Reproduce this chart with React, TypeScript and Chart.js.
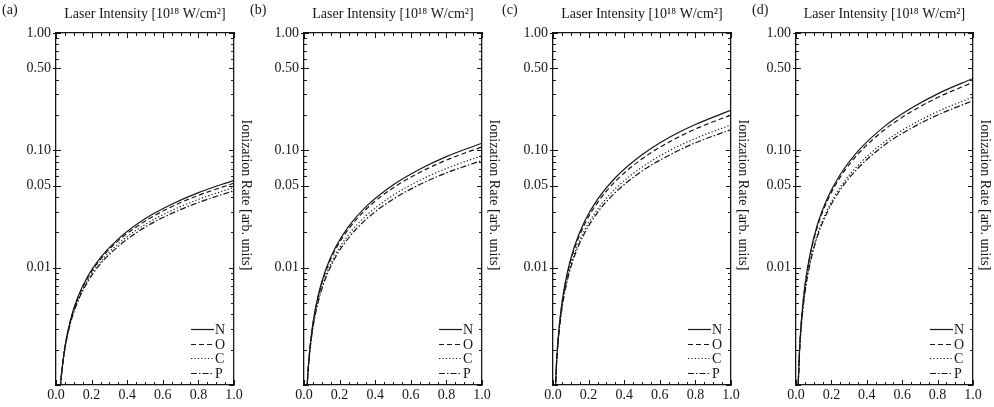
import { useEffect, useRef } from "react";
import { Chart, registerables } from "chart.js";

Chart.register(...registerables);

const FONT = "'Liberation Serif', 'Times New Roman', serif";
const INK = "#161616";

// ---------- data ----------
const X_VALUES = [0.01, 0.02, 0.03, 0.05, 0.08, 0.12, 0.18, 0.25, 0.35, 0.5, 0.65, 0.8, 1.0];

const A_N = [0.000362, 0.000773, 0.0012, 0.0021, 0.00351, 0.00548, 0.00853, 0.0122, 0.0176, 0.0261, 0.0347, 0.0436, 0.0556];
const A_O = [0.000368, 0.000778, 0.0012, 0.00208, 0.00346, 0.00536, 0.00828, 0.0118, 0.017, 0.0249, 0.0331, 0.0413, 0.0525];
const A_C = [0.000376, 0.000781, 0.00119, 0.00205, 0.00337, 0.00517, 0.00793, 0.0112, 0.016, 0.0233, 0.0307, 0.0382, 0.0484];
const A_P = [0.000382, 0.000784, 0.00119, 0.00203, 0.00331, 0.00504, 0.00766, 0.0108, 0.0152, 0.0221, 0.029, 0.0359, 0.0453];

const B_N = [0.0005, 0.00113, 0.00183, 0.00334, 0.00582, 0.0094, 0.0152, 0.0224, 0.0333, 0.0507, 0.0691, 0.0884, 0.115];
const B_O = [0.000505, 0.00113, 0.00181, 0.00328, 0.00567, 0.00909, 0.0146, 0.0213, 0.0316, 0.0478, 0.0648, 0.0826, 0.107];
const B_C = [0.000518, 0.00113, 0.00177, 0.00314, 0.00532, 0.00838, 0.0132, 0.0191, 0.0278, 0.0414, 0.0555, 0.0701, 0.09];
const B_P = [0.000524, 0.00112, 0.00175, 0.00306, 0.00513, 0.00801, 0.0125, 0.0179, 0.0259, 0.0383, 0.0511, 0.0642, 0.082];

const C_N = [0.000652, 0.00157, 0.00261, 0.00499, 0.00903, 0.0151, 0.0252, 0.0382, 0.0584, 0.0916, 0.128, 0.166, 0.22];
const C_O = [0.000659, 0.00156, 0.00258, 0.00486, 0.0087, 0.0144, 0.0238, 0.0358, 0.0543, 0.0846, 0.117, 0.152, 0.2];
const C_C = [0.000669, 0.00153, 0.00249, 0.00459, 0.00804, 0.0131, 0.0212, 0.0314, 0.047, 0.072, 0.0985, 0.126, 0.165];
const C_P = [0.000673, 0.00152, 0.00244, 0.00445, 0.00773, 0.0125, 0.02, 0.0295, 0.0437, 0.0665, 0.0904, 0.116, 0.15];

const D_N = [0.000781, 0.00201, 0.00348, 0.00697, 0.0132, 0.023, 0.0398, 0.0623, 0.0983, 0.16, 0.228, 0.303, 0.41];
const D_O = [0.000783, 0.00199, 0.00342, 0.0068, 0.0128, 0.0221, 0.038, 0.0591, 0.0928, 0.15, 0.213, 0.282, 0.38];
const D_C = [0.000793, 0.00192, 0.00322, 0.00619, 0.0113, 0.019, 0.0318, 0.0485, 0.0745, 0.118, 0.164, 0.214, 0.285];
const D_P = [0.000793, 0.0019, 0.00317, 0.00604, 0.0109, 0.0183, 0.0304, 0.0461, 0.0704, 0.111, 0.154, 0.2, 0.265];

const SERIES_NAMES = ["N", "O", "C", "P"];
const PANEL_LABELS = ["(a)", "(b)", "(c)", "(d)"];
const PANEL_SERIES = [
  [A_N, A_O, A_C, A_P],
  [B_N, B_O, B_C, B_P],
  [C_N, C_O, C_C, C_P],
  [D_N, D_O, D_C, D_P],
];

const X_TICKS = [0, 0.2, 0.4, 0.6, 0.8, 1.0];
const X_TICK_LABELS = ["0.0", "0.2", "0.4", "0.6", "0.8", "1.0"];
const Y_TICKS = [0.01, 0.05, 0.1, 0.5, 1];
const Y_TICK_LABELS = ["0.01", "0.05", "0.10", "0.50", "1.00"];
const Y_DECADES = [0.001, 0.01, 0.1];
const Y_MULTIPLIERS = [1, 2, 3, 4, 5, 6, 7, 8, 9];
const X_MINOR_STEPS = 20;

const X_TITLE = "Laser Intensity [10\u00b9\u2078 W/cm\u00b2]";
const Y_TITLE = "Ionization Rate [arb. units]        ";

// ---------- styling / layout ----------
const FS = 14;
const DASHES: number[][] = [[], [5, 3], [1.2, 2.2], [6, 2, 1.5, 2]];
const LAYOUT = [
  { canvasLeft: 0, chartLeft: 56, chartRight: 234, letterLeft: 2 },
  { canvasLeft: 254, chartLeft: 304, chartRight: 482, letterLeft: 250 },
  { canvasLeft: 502, chartLeft: 553, chartRight: 731, letterLeft: 502 },
  { canvasLeft: 751, chartLeft: 796, chartRight: 973, letterLeft: 752 },
];
const H = 407;
const TOP = 33;
const BOTTOM = 385;
const RIGHT_AXIS = 20;

const frameTicks = {
  id: "frameTicks",
  afterDraw(chart: any) {
    const { ctx, chartArea, scales } = chart;
    const { left, right, top, bottom } = chartArea;
    const xs = scales.x;
    const ys = scales.y;
    ctx.save();
    ctx.strokeStyle = INK;
    ctx.lineWidth = 1;
    ctx.setLineDash([]);
    ctx.beginPath();
    for (let i = 0; i <= X_MINOR_STEPS; i++) {
      const v = i / X_MINOR_STEPS;
      const px = Math.round(xs.getPixelForValue(v)) + 0.5;
      const len = i % 4 === 0 ? 5 : 3;
      ctx.moveTo(px, bottom);
      ctx.lineTo(px, bottom - len);
      ctx.moveTo(px, top);
      ctx.lineTo(px, top + len);
    }
    const yVals: number[] = [];
    Y_DECADES.forEach((d) => Y_MULTIPLIERS.forEach((m) => yVals.push(d * m)));
    yVals.push(1);
    yVals.forEach((v) => {
      const py = Math.round(ys.getPixelForValue(v)) + 0.5;
      const labeled = Y_TICKS.some((t) => Math.abs(t - v) < 1e-9);
      const decade = Math.abs(Math.log10(v) - Math.round(Math.log10(v))) < 1e-6;
      const len = labeled || decade ? 5 : 3;
      ctx.moveTo(left, py);
      ctx.lineTo(left + len, py);
      ctx.moveTo(right, py);
      ctx.lineTo(right - len, py);
      if (labeled) {
        ctx.moveTo(left, py);
        ctx.lineTo(left - 3, py);
      }
    });
    ctx.stroke();
    ctx.restore();
  },
};

const innerLegend = {
  id: "innerLegend",
  afterDraw(chart: any) {
    const { ctx, chartArea } = chart;
    const { right, bottom } = chartArea;
    ctx.save();
    ctx.font = `${FS}px ${FONT}`;
    ctx.fillStyle = INK;
    ctx.strokeStyle = INK;
    ctx.lineWidth = 1.2;
    ctx.textBaseline = "middle";
    ctx.textAlign = "left";
    chart.data.datasets.forEach((ds: any, i: number) => {
      const y = Math.round(bottom - 56 + i * 14.5) + 0.5;
      ctx.setLineDash(ds.borderDash || []);
      ctx.beginPath();
      ctx.moveTo(right - 43, y);
      ctx.lineTo(right - 20, y);
      ctx.stroke();
      ctx.setLineDash([]);
      ctx.fillText(ds.label, right - 19, y + 0.5);
    });
    ctx.restore();
  },
};

function Panel({ index }: { index: number }) {
  const ref = useRef<HTMLCanvasElement | null>(null);
  const lay = LAYOUT[index];
  const width = lay.chartRight + RIGHT_AXIS - lay.canvasLeft;

  useEffect(() => {
    if (!ref.current) return;
    const border = { display: true, color: INK, width: 1.3 };
    const grid = { display: false, drawTicks: false };
    const chart = new Chart(ref.current, {
      type: "line",
      data: {
        datasets: PANEL_SERIES[index].map((vals, i) => ({
          label: SERIES_NAMES[i],
          data: X_VALUES.map((x, j) => ({ x, y: vals[j] })),
          borderColor: INK,
          borderWidth: 1.2,
          borderDash: DASHES[i],
          pointRadius: 0,
          fill: false,
          cubicInterpolationMode: "monotone" as const,
        })),
      },
      options: {
        responsive: false,
        maintainAspectRatio: false,
        animation: false,
        events: [],
        layout: { padding: 0 },
        plugins: { legend: { display: false }, tooltip: { enabled: false }, title: { display: false } },
        scales: {
          x: {
            type: "linear",
            position: "bottom",
            min: 0,
            max: 1,
            afterBuildTicks: (s: any) => {
              s.ticks = X_TICKS.map((v) => ({ value: v }));
            },
            afterFit: (s: any) => {
              s.height = H - BOTTOM;
            },
            ticks: {
              callback: (_v: any, i: number) => X_TICK_LABELS[i],
              padding: 2,
              maxRotation: 0,
              autoSkip: false,
              color: INK,
              font: { family: FONT, size: FS },
            },
            grid,
            border,
          },
          x2: {
            type: "linear",
            position: "top",
            min: 0,
            max: 1,
            ticks: { display: false },
            afterFit: (s: any) => {
              s.height = TOP;
            },
            grid,
            border,
            title: {
              display: true,
              text: X_TITLE,
              color: INK,
              font: { family: FONT, size: FS },
              padding: { top: 6, bottom: 0 },
            },
          },
          y: {
            type: "logarithmic",
            position: "left",
            min: 0.001,
            max: 1,
            afterBuildTicks: (s: any) => {
              s.ticks = Y_TICKS.map((v) => ({ value: v }));
            },
            afterFit: (s: any) => {
              s.width = lay.chartLeft - lay.canvasLeft;
            },
            ticks: {
              callback: (_v: any, i: number) => Y_TICK_LABELS[i],
              padding: 5,
              autoSkip: false,
              color: INK,
              font: { family: FONT, size: FS },
            },
            grid,
            border,
          },
          y2: {
            type: "logarithmic",
            position: "right",
            min: 0.001,
            max: 1,
            ticks: { display: false },
            afterFit: (s: any) => {
              s.width = RIGHT_AXIS;
            },
            grid,
            border,
            title: {
              display: true,
              text: Y_TITLE,
              color: INK,
              font: { family: FONT, size: FS },
              padding: { top: 0, bottom: 0 },
            },
          },
        },
      } as any,
      plugins: [frameTicks, innerLegend],
    });
    return () => chart.destroy();
  }, [index]);

  return (
    <>
      <canvas
        ref={ref}
        width={width}
        height={H}
        style={{ position: "absolute", left: lay.canvasLeft, top: 0, width, height: H }}
      />
      <div
        style={{
          position: "absolute",
          left: lay.letterLeft,
          top: 2,
          fontFamily: FONT,
          fontSize: FS,
          lineHeight: "16px",
          color: INK,
        }}
      >
        {PANEL_LABELS[index]}
      </div>
    </>
  );
}

export default function App() {
  return (
    <div style={{ position: "absolute", left: 0, top: 0, width: 994, height: 407, background: "#fff", overflow: "hidden" }}>
      {PANEL_LABELS.map((_, i) => (
        <Panel key={i} index={i} />
      ))}
    </div>
  );
}
